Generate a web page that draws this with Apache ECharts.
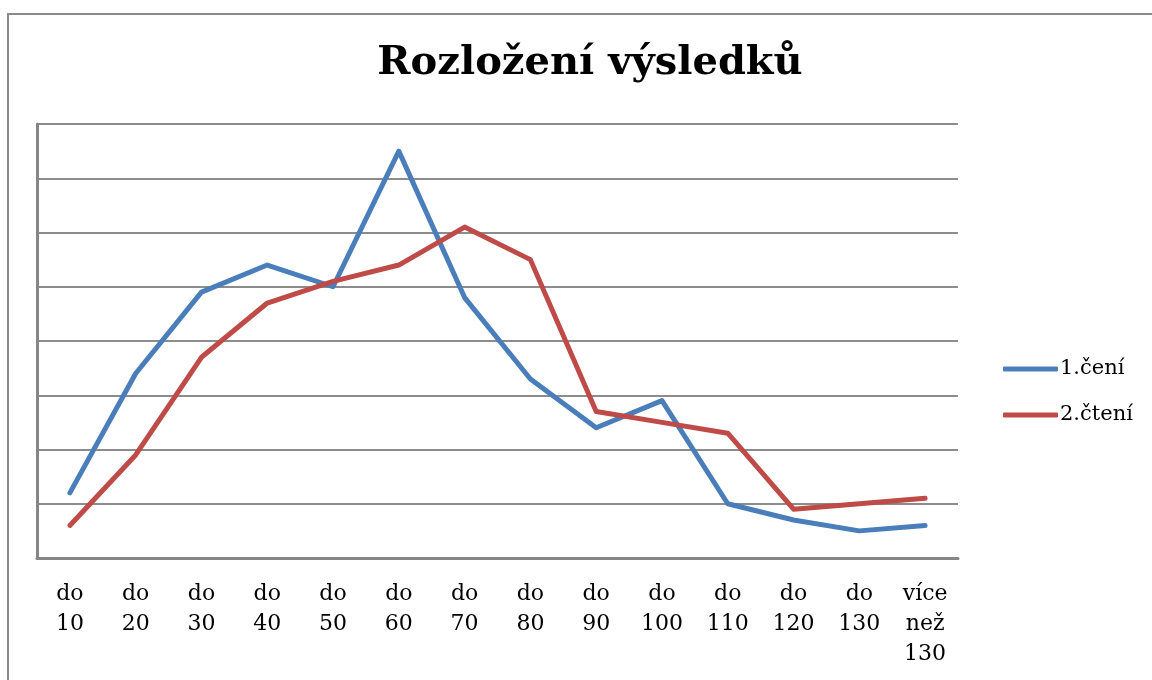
<!DOCTYPE html>
<html>
<head>
<meta charset="utf-8">
<style>
  html, body { margin: 0; padding: 0; background: #fff; }
  #chart { width: 1152px; height: 680px; }
</style>
<script src="https://cdn.jsdelivr.net/npm/echarts@6/dist/echarts.min.js"></script>
</head>
<body>
<div id="chart"></div>
<script>
// kategorie na ose x
const categories = ["do\n10", "do\n20", "do\n30", "do\n40", "do\n50", "do\n60", "do\n70",
  "do\n80", "do\n90", "do\n100", "do\n110", "do\n120", "do\n130", "více\nnež\n130"]

// hodnoty (jednotky = jedna mřížka)
const cteni1 = [1.2, 3.4, 4.9, 5.4, 5.0, 7.5, 4.8, 3.3, 2.4, 2.9, 1.0, 0.7, 0.5, 0.6]
const cteni2 = [0.6, 1.9, 3.7, 4.7, 5.1, 5.4, 6.1, 5.5, 2.7, 2.5, 2.3, 0.9, 1.0, 1.1]

const seriesNames = ["1.čení", "2.čtení"]
const seriesColors = ["#4a7ebb", "#be4b48"]

const serif = "'DejaVu Serif', 'Liberation Serif', serif"

const chart = echarts.init(document.getElementById("chart"))

chart.setOption({
  backgroundColor: "#fff",
  animation: false,
  title: {
    text: "Rozložení výsledků",
    left: 585,
    top: 39,
    textAlign: "center",
    textStyle: { fontFamily: serif, fontSize: 40, fontWeight: "bold", color: "#000" }
  },
  legend: {
    orient: "vertical",
    left: 998,
    top: 352,
    icon: "roundRect",
    itemWidth: 55,
    itemHeight: 5,
    itemGap: 22,
    textStyle: { fontFamily: serif, fontSize: 21, lineHeight: 24, color: "#000", padding: [0, 0, 0, -3] },
    data: seriesNames
  },
  grid: { left: 37, top: 124, width: 921, height: 434, containLabel: false },
  xAxis: {
    type: "category",
    data: categories,
    boundaryGap: true,
    axisLine: { lineStyle: { color: "#868686", width: 3 } },
    axisTick: { show: false },
    axisLabel: {
      fontFamily: serif, fontSize: 22, color: "#000", lineHeight: 30,
      margin: 21, verticalAlign: "top", interval: 0
    }
  },
  yAxis: {
    type: "value",
    min: 0,
    max: 8,
    interval: 1,
    axisLine: { show: true, lineStyle: { color: "#868686", width: 3 } },
    axisTick: { show: false },
    axisLabel: { show: false },
    splitLine: { lineStyle: { color: "#8c8c8c", width: 2 } }
  },
  graphic: [{
    type: "rect",
    shape: { x: 8, y: 14, width: 1160, height: 700 },
    style: { fill: null, stroke: "#8a8a8a", lineWidth: 2 },
    silent: true
  }],
  series: [cteni1, cteni2].map((d, i) => ({
    name: seriesNames[i],
    type: "line",
    data: d,
    symbol: "none",
    color: seriesColors[i],
    lineStyle: { width: 5, color: seriesColors[i], cap: "round", join: "round" }
  }))
})
</script>
</body>
</html>
